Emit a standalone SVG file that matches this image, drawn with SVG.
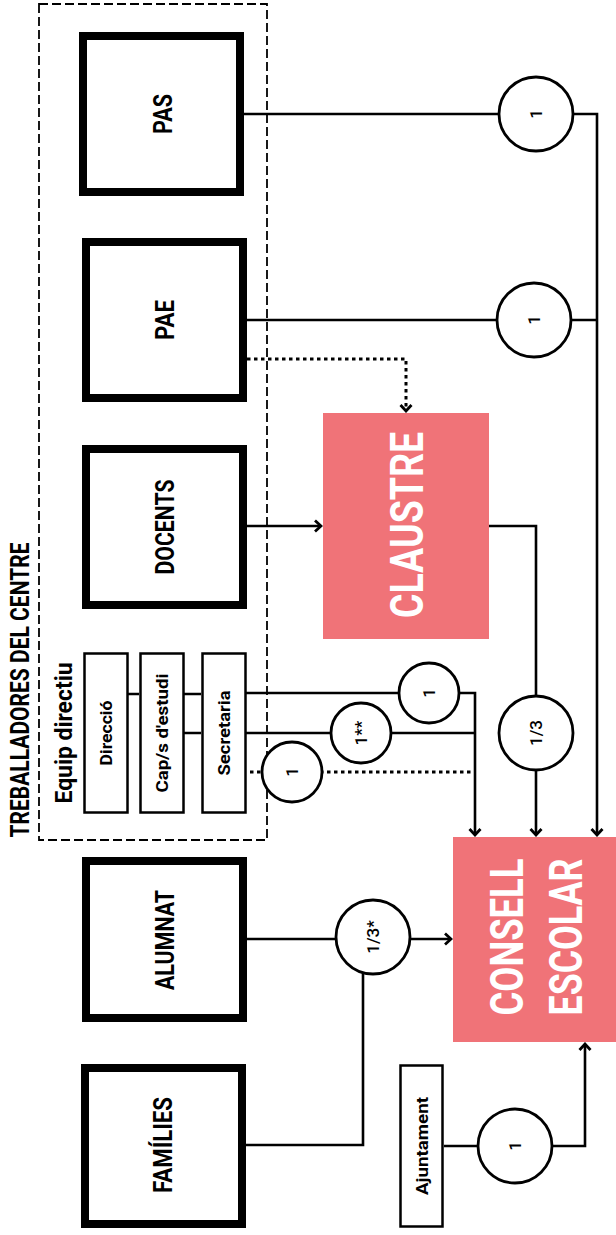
<svg xmlns="http://www.w3.org/2000/svg" width="616" height="1235" viewBox="0 0 616 1235">
<defs>
<style>
.big{fill:#fff;stroke:#000;stroke-width:8}
.small{fill:#fff;stroke:#000;stroke-width:2.5}
.pink{fill:#F07378}
.ln{fill:none;stroke:#000;stroke-width:2.6}
.dot{fill:none;stroke:#000;stroke-width:3;stroke-dasharray:3.5 3.5}
.circ{fill:#fff;stroke:#000;stroke-width:2.8}
.t{font-family:Roboto,"Liberation Sans",sans-serif;text-anchor:middle;dominant-baseline:central;fill:#000}
.tb{font-weight:700;font-size:25px}
.ts{font-weight:700;font-size:16px}
.tc{font-weight:500;font-size:17px}
.tw{font-weight:700;font-size:46px;fill:#fff}
</style>
<marker id="arr" viewBox="-8 -7 10 14" markerWidth="10" markerHeight="14" refX="0" refY="0" orient="auto" markerUnits="userSpaceOnUse">
<path d="M-6,-5.5 L0,0 L-6,5.5" fill="none" stroke="#000" stroke-width="2.8"/>
</marker>
</defs>

<g id="centre-group">
<rect x="39" y="4" width="228" height="836" fill="none" stroke="#000" stroke-width="1.8" stroke-dasharray="9 4"/>
<text class="t" font-weight="700" font-size="26" textLength="295" lengthAdjust="spacingAndGlyphs" transform="translate(20,690) rotate(-90)">TREBALLADORES DEL CENTRE</text>
</g>

<g id="connectors">
<path class="ln" d="M244,114 H597 V835" marker-end="url(#arr)"/>
<path class="ln" d="M247,320 H597"/>
<path class="dot" d="M247,359 H406 V411" />
<path class="ln" d="M406,409 V411" marker-end="url(#arr)"/>
<path class="ln" d="M247,526 H321" marker-end="url(#arr)"/>
<path class="ln" d="M489,526 H536 V835" marker-end="url(#arr)"/>
<path class="ln" d="M246,693 H475 V835" marker-end="url(#arr)"/>
<path class="ln" d="M246,733 H475"/>
<path class="dot" d="M250,772 H475"/>
<path class="ln" d="M128,694 H139 M184,694 H201 M184,733 H201"/>
<path class="ln" d="M247,939 H451" marker-end="url(#arr)"/>
<path class="ln" d="M246,1145 H363 V972"/>
<path class="ln" d="M444,1146 H585 V1044" marker-end="url(#arr)"/>
</g>

<g id="pas">
<rect class="big" x="83" y="36" width="157" height="156"/>
<text class="t tb" textLength="40" lengthAdjust="spacingAndGlyphs" transform="translate(163,114) rotate(-90)">PAS</text>
</g>
<g id="pae">
<rect class="big" x="86" y="242" width="157" height="156"/>
<text class="t tb" textLength="40" lengthAdjust="spacingAndGlyphs" transform="translate(165,320) rotate(-90)">PAE</text>
</g>
<g id="docents">
<rect class="big" x="86" y="449" width="157" height="156"/>
<text class="t tb" textLength="95" lengthAdjust="spacingAndGlyphs" transform="translate(165,527) rotate(-90)">DOCENTS</text>
</g>
<g id="alumnat">
<rect class="big" x="86" y="861" width="157" height="157"/>
<text class="t tb" textLength="100" lengthAdjust="spacingAndGlyphs" transform="translate(165,940) rotate(-90)">ALUMNAT</text>
</g>
<g id="families">
<rect class="big" x="85" y="1068" width="157" height="156"/>
<text class="t tb" textLength="96" lengthAdjust="spacingAndGlyphs" transform="translate(163,1145) rotate(-90)">FAMÍLIES</text>
</g>

<g id="equip-directiu">
<text class="t" font-weight="700" font-size="23" textLength="141" lengthAdjust="spacingAndGlyphs" transform="translate(64,733) rotate(-90)">Equip directiu</text>
</g>
<g id="direccio">
<rect class="small" x="84.5" y="653.5" width="43" height="159"/>
<text class="t ts" textLength="65" lengthAdjust="spacingAndGlyphs" transform="translate(106,733) rotate(-90)">Direcció</text>
</g>
<g id="caps">
<rect class="small" x="140.5" y="653.5" width="43" height="159"/>
<text class="t ts" textLength="119" lengthAdjust="spacingAndGlyphs" transform="translate(162,733) rotate(-90)">Cap/s d'estudi</text>
</g>
<g id="secretaria">
<rect class="small" x="202.5" y="653.5" width="43" height="159"/>
<text class="t ts" textLength="85" lengthAdjust="spacingAndGlyphs" transform="translate(224,733) rotate(-90)">Secretaria</text>
</g>
<g id="ajuntament">
<rect class="small" x="400.5" y="1065.5" width="42" height="161"/>
<text class="t ts" textLength="98" lengthAdjust="spacingAndGlyphs" transform="translate(422,1146) rotate(-90)">Ajuntament</text>
</g>

<g id="claustre">
<rect class="pink" x="323" y="413" width="166" height="226"/>
<text class="t tw" textLength="186" lengthAdjust="spacingAndGlyphs" transform="translate(407,525) rotate(-90)">CLAUSTRE</text>
</g>
<g id="consell-escolar">
<rect class="pink" x="453" y="837" width="163" height="205"/>
<text class="t tw" textLength="157" lengthAdjust="spacingAndGlyphs" transform="translate(507,937) rotate(-90)">CONSELL</text>
<text class="t tw" textLength="157" lengthAdjust="spacingAndGlyphs" transform="translate(566,937) rotate(-90)">ESCOLAR</text>
</g>

<g id="c-pas">
<circle class="circ" cx="536" cy="114" r="37"/>
<text class="t tc" transform="translate(536,114) rotate(-90)">1</text>
</g>
<g id="c-pae">
<circle class="circ" cx="534" cy="320" r="37"/>
<text class="t tc" transform="translate(534,320) rotate(-90)">1</text>
</g>
<g id="c-claustre">
<circle class="circ" cx="536" cy="733" r="37"/>
<text class="t tc" transform="translate(536,733) rotate(-90)">1/3</text>
</g>
<g id="c-dir">
<circle class="circ" cx="429" cy="693" r="30"/>
<text class="t tc" transform="translate(429,693) rotate(-90)">1</text>
</g>
<g id="c-cap">
<circle class="circ" cx="361" cy="733" r="30"/>
<text class="t tc" transform="translate(361,733) rotate(-90)">1**</text>
</g>
<g id="c-sec">
<circle class="circ" cx="292" cy="772" r="30"/>
<text class="t tc" transform="translate(292,772) rotate(-90)">1</text>
</g>
<g id="c-alumnat">
<circle class="circ" cx="373" cy="937" r="37"/>
<text class="t tc" transform="translate(373,937) rotate(-90)">1/3*</text>
</g>
<g id="c-ajuntament">
<circle class="circ" cx="515" cy="1146" r="37"/>
<text class="t tc" transform="translate(515,1146) rotate(-90)">1</text>
</g>
</svg>
